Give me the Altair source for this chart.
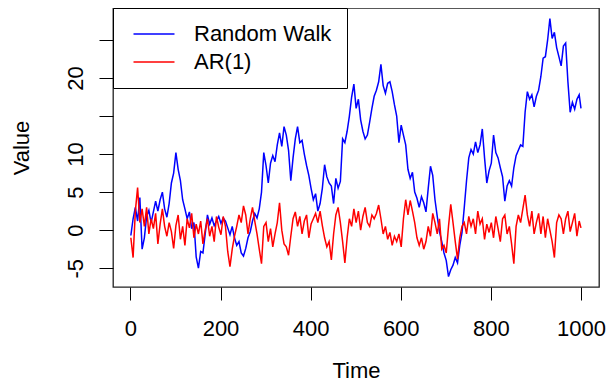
import altair as alt
import pandas as pd

# time index (every 5th step)
time_idx = list(range(1, 1000, 5)) + [1000]

random_walk = [
    -0.7, 1.5, 3.0, 1.2, 4.3, -2.5, -1.0, 1.8, 2.6, 1.0,
    2.4, 3.8, 2.5, 4.0, 5.0, 2.8, 1.7, 3.5, 6.2, 7.5,
    10.2, 8.0, 6.5, 4.0, 2.8, 1.5, 2.4, 0.2, 1.0, -3.5,
    -5.0, -2.8, -3.0, -0.5, 2.0, 0.8, 1.6, 0.6, 1.2, 1.8,
    0.9, 1.6, 1.2, 0.3, -0.6, 0.5, -1.0, -2.0, -1.5, -3.0,
    -3.4, -2.4, -1.0, -0.2, 1.2, 2.2, 1.6, 2.8, 5.0, 10.2,
    8.5, 6.2, 8.8, 9.8, 9.0, 11.2, 12.8, 11.0, 13.6, 12.5,
    10.5, 6.5, 9.5, 12.0, 13.6, 11.5, 11.8, 10.0, 8.5, 7.2,
    5.5, 4.0, 4.8, 2.5, 3.5, 5.5, 8.6, 7.0, 6.2, 5.8,
    3.5, 6.8, 5.5, 6.4, 12.0, 11.5, 13.0, 15.0, 17.5, 19.2,
    16.0, 17.2, 14.5, 13.0, 12.0, 12.5, 14.2, 16.0, 17.6, 18.4,
    19.5, 21.8, 19.0, 18.0, 19.3, 19.5, 18.2, 16.5, 15.0, 11.5,
    13.8, 12.5, 11.2, 8.0, 6.8, 7.6, 5.0, 4.2, 3.0, 4.4,
    3.6, 2.4, 5.5, 8.4, 7.2, 4.0, 1.8, -0.2, -1.5, -3.0,
    -4.0, -6.1, -5.2, -4.6, -3.6, -4.3, -2.0, -0.3, 3.0, 6.5,
    9.5, 10.6, 10.0, 11.6, 10.2, 11.2, 13.3, 9.5, 6.2, 7.8,
    8.8, 12.5, 10.2, 9.5, 8.2, 7.0, 3.8, 5.8, 6.5, 5.8,
    8.2, 9.8, 10.5, 11.2, 11.0, 15.5, 18.2, 17.2, 17.8, 16.2,
    17.6, 18.4, 20.2, 22.6, 22.8, 25.0, 27.8, 25.2, 26.0, 24.0,
    22.8, 21.6, 24.2, 24.6, 19.5, 15.5, 16.8, 15.9, 17.2, 17.8,
    16.0,
]

ar1 = [
    -1.0, -3.6, 2.5, 5.6, 1.0, 2.8, 0.5, 3.0, -0.5, 1.5,
    0.2, 2.2, -1.8, 0.8, 2.8, 0.5, -0.8, 1.0, -0.2, -2.4,
    0.6, 2.0, -1.2, 0.5, -2.0, 1.5, 0.3, 2.2, -1.0, 0.8,
    -0.5, 1.2, -1.8, 0.0, 1.5, -0.8, 0.5, -1.5, 1.8, 0.4,
    -0.6, 1.8, 0.5, -2.8, -4.8, -2.5, -0.8, 0.5, 2.0, 1.0,
    3.2, 2.0, -0.5, 1.5, 3.0, 1.2, -0.5, -2.5, -4.4, 0.5,
    1.0, -1.5, 0.2, -2.2, -0.5, 1.0, 3.6, 0.0, -1.8, -2.2,
    -3.3, -0.8, 1.5, 2.4, 0.5, 1.8, -0.5, 1.2, 2.0, -1.0,
    0.8, 1.5, 2.2, 1.0, 2.5, 0.6, -1.0, -2.2, -1.5, -3.9,
    -0.5, 2.0, 3.0, 1.0, -1.5, -4.3, -1.0, 1.5, 0.5, 2.8,
    1.0, 2.5, 0.0, 1.8, 3.0, 1.0, 0.5, 2.0, 1.5, 2.2,
    3.3, 1.5, -0.5, 0.5, -1.2, -0.3, -2.0, -0.8, -1.5, -0.5,
    -2.2, 1.5, 4.0, 2.0, 3.9, 2.5, 1.0, -1.0, -2.0, -1.0,
    -2.5, -1.5, 0.5, -0.8, 2.2, 1.0, -0.5, 1.5, -2.5, -2.0,
    -3.0, 0.5, 3.4, 1.0, -1.5, -3.8, -1.0, 0.5, 1.0, -0.5,
    1.8, 0.5, 1.5, -0.5, 2.5, 0.8, 1.5, -1.2, 0.8, -0.3,
    1.0, -1.0, 1.8, 0.2, -1.5, 1.5, 2.0, -0.5, 0.5, -1.8,
    -4.4, 0.5, 2.0, 1.0, 2.8, 4.6, 2.0, 0.5, 2.5, -0.5,
    1.0, 2.2, -0.5, 1.8, -1.0, 1.5, 0.0, -1.5, -3.6, 1.0,
    2.0, 1.5, -0.5, 1.5, 2.5, -0.2, 1.0, 2.2, -0.8, 1.2,
    0.3,
]

series_names = ["Random Walk", "AR(1)"]
series_colors = ["#0000FF", "#FF0000"]
x_ticks = [0, 200, 400, 600, 800, 1000]
y_ticks = [-5, 0, 5, 10, 15, 20, 25]

df_rw = pd.DataFrame({"Time": time_idx, "Value": random_walk, "Series": series_names[0]})
df_ar = pd.DataFrame({"Time": time_idx, "Value": ar1, "Series": series_names[1]})

FONT = "Liberation Sans"

color_scale = alt.Scale(domain=series_names, range=series_colors)
legend = alt.Legend(
    title=None, orient="top-left", offset=0,
    fillColor="white", strokeColor="black", padding=15,
    symbolType="M-2,0H2", symbolSize=420, symbolStrokeWidth=1.5,
    symbolOffset=15, labelOffset=29, labelFontSize=22, labelFont=FONT,
    labelColor="black", rowPadding=6,
)

x_enc = alt.X(
    "Time:Q",
    scale=alt.Scale(domain=[-38.6, 1040], nice=False, zero=False),
    axis=alt.Axis(
        values=x_ticks, format="d", tickSize=13, tickColor="black", tickWidth=1,
        labelFontSize=22, labelFont=FONT, labelColor="black", labelPadding=18,
        labelFlush=False, labelOverlap=False, domain=False, grid=False,
        title="Time", titleFontSize=22, titleFont=FONT, titleFontWeight="normal",
        titleColor="black", titleY=90, titleBaseline="alphabetic",
    ),
)
y_enc = alt.Y(
    "Value:Q",
    scale=alt.Scale(domain=[-7.47, 29.2], nice=False, zero=False),
    axis=alt.Axis(
        values=y_ticks, tickSize=14, tickColor="black", tickWidth=1,
        labelExpr="(datum.value == 15 || datum.value == 25) ? '' : '' + datum.value",
        labelAngle=270, labelAlign="center", labelBaseline="bottom", labelPadding=12,
        labelFontSize=22, labelFont=FONT, labelColor="black", labelOverlap=False,
        labelFlush=False, domain=False, grid=False,
        title="Value", titleFontSize=22, titleFont=FONT, titleFontWeight="normal",
        titleColor="black", titleAngle=270, titleX=-85, titleBaseline="alphabetic",
    ),
)

base_color = alt.Color("Series:N", scale=color_scale, legend=legend)

blue = alt.Chart(df_rw).mark_line(strokeWidth=1.5).encode(x=x_enc, y=y_enc, color=base_color)
red = alt.Chart(df_ar).mark_line(strokeWidth=1.5).encode(x=x_enc, y=y_enc, color=base_color)

chart = alt.layer(blue, red).properties(
    width=486, height=279,
    autosize=alt.AutoSizeParams(type="none"),
    padding={"left": 105, "top": 0, "right": 7, "bottom": 96},
    background="white",
).configure_view(stroke="#222222", strokeWidth=1.3)

chart.save("out.html", embed_options={"renderer": "svg", "actions": False})
